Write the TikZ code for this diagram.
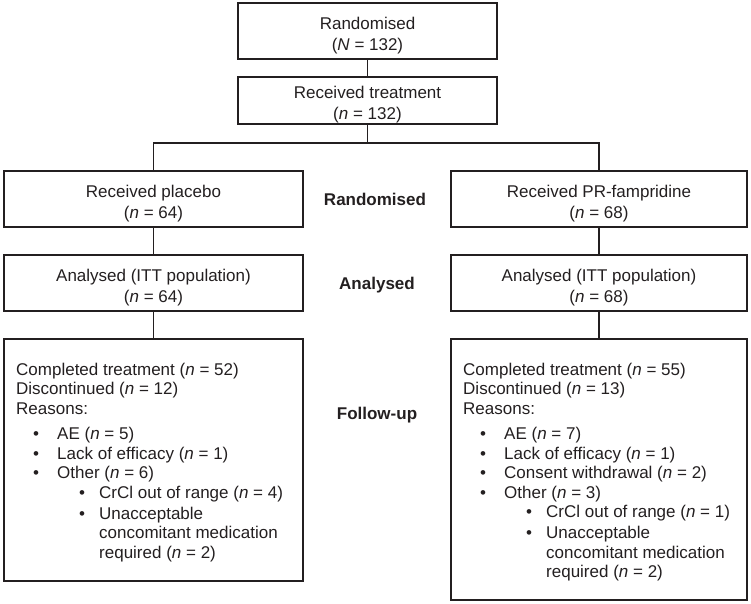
\documentclass[tikz,border=0pt]{standalone}
\usepackage{fontspec}
\setmainfont{Liberation Sans}
\definecolor{ink}{RGB}{35,31,32}
\newcommand\itA[1]{\hspace*{17pt}\makebox[24pt][l]{•}#1}
\newcommand\itB[1]{\hspace*{63pt}\makebox[20pt][l]{•}#1}
\newcommand\itC[1]{\hspace*{83pt}#1}
\begin{document}
\begin{tikzpicture}[x=1pt,y=-1pt,
  box/.style={draw=ink, line width=1.6pt, inner sep=0pt},
  txt/.style={text=ink, font=\fontsize{17}{21}\selectfont, align=center, inner sep=0pt},
  lbl/.style={text=ink, font=\fontsize{17}{21}\selectfont\bfseries, inner sep=0pt, text height=12.4pt, text depth=3.6pt},
  lst/.style={text=ink, font=\fontsize{17}{19.5}\selectfont, align=left, inner sep=0pt, anchor=north west},
  conn/.style={draw=ink, line width=1.6pt}]
\useasboundingbox (0,0) rectangle (751,604);
% boxes
\node[box, minimum width=259pt, minimum height=56pt] (rand) at (367.5,31) {};
\node[box, minimum width=259pt, minimum height=47pt] (treat) at (367.5,100.5) {};
\node[box, minimum width=299pt, minimum height=56pt] (plac) at (153.5,199) {};
\node[box, minimum width=296pt, minimum height=56pt] (pr) at (599,199) {};
\node[box, minimum width=299pt, minimum height=56pt] (anl) at (153.5,283) {};
\node[box, minimum width=296pt, minimum height=56pt] (anr) at (599,283) {};
\node[box, minimum width=299pt, minimum height=242pt] (ful) at (153.5,460) {};
\node[box, minimum width=296pt, minimum height=261pt] (fur) at (599,469.5) {};
% box texts
\node[txt] (randt) at ([yshift=-4.5pt]rand.center) {Randomised\\(\textit{N} = 132)};
\node[txt] (treatt) at ([yshift=-4.5pt]treat.center) {Received treatment\\(\textit{n} = 132)};
\node[txt] (plact) at ([yshift=-4.5pt]plac.center) {Received placebo\\(\textit{n} = 64)};
\node[txt] (prt) at ([yshift=-4.5pt]pr.center) {Received PR-fampridine\\(\textit{n} = 68)};
\node[txt] (anlt) at ([yshift=-4.5pt]anl.center) {Analysed (ITT population)\\(\textit{n} = 64)};
\node[txt] (anrt) at ([yshift=-4.5pt]anr.center) {Analysed (ITT population)\\(\textit{n} = 68)};
\node[lst] (fult) at (16,362.5) {Completed treatment (\textit{n} = 52)\\
Discontinued (\textit{n} = 12)\\
Reasons:\\[6pt]
\itA{AE (\textit{n} = 5)}\\
\itA{Lack of efficacy (\textit{n} = 1)}\\
\itA{Other (\textit{n} = 6)}\\
\itB{CrCl out of range (\textit{n} = 4)}\\[1.5pt]
\itB{Unacceptable}\\
\itC{concomitant medication}\\
\itC{required (\textit{n} = 2)}};
\node[lst] (furt) at (463,362.5) {Completed treatment (\textit{n} = 55)\\
Discontinued (\textit{n} = 13)\\
Reasons:\\[6pt]
\itA{AE (\textit{n} = 7)}\\
\itA{Lack of efficacy (\textit{n} = 1)}\\
\itA{Consent withdrawal (\textit{n} = 2)}\\
\itA{Other (\textit{n} = 3)}\\
\itB{CrCl out of range (\textit{n} = 1)}\\[1.5pt]
\itB{Unacceptable}\\
\itC{concomitant medication}\\
\itC{required (\textit{n} = 2)}};
% stage labels
\node[lbl] (l1) at (375,201) {Randomised};
\node[lbl] (l2) at (377,285) {Analysed};
\node[lbl] (l3) at (377,415) {Follow-up};
% connectors
\coordinate (split) at (367.5,143);
\draw[conn] (rand.south) -- (treat.north);
\draw[conn] (treat.south) -- (split);
\draw[conn] (split) -| (plac.north);
\draw[conn] (split) -| (pr.north);
\draw[conn] (plac.south) -- (anl.north);
\draw[conn] (pr.south) -- (anr.north);
\draw[conn] (anl.south) -- (ful.north);
\draw[conn] (anr.south) -- (fur.north);
\end{tikzpicture}
\end{document}
